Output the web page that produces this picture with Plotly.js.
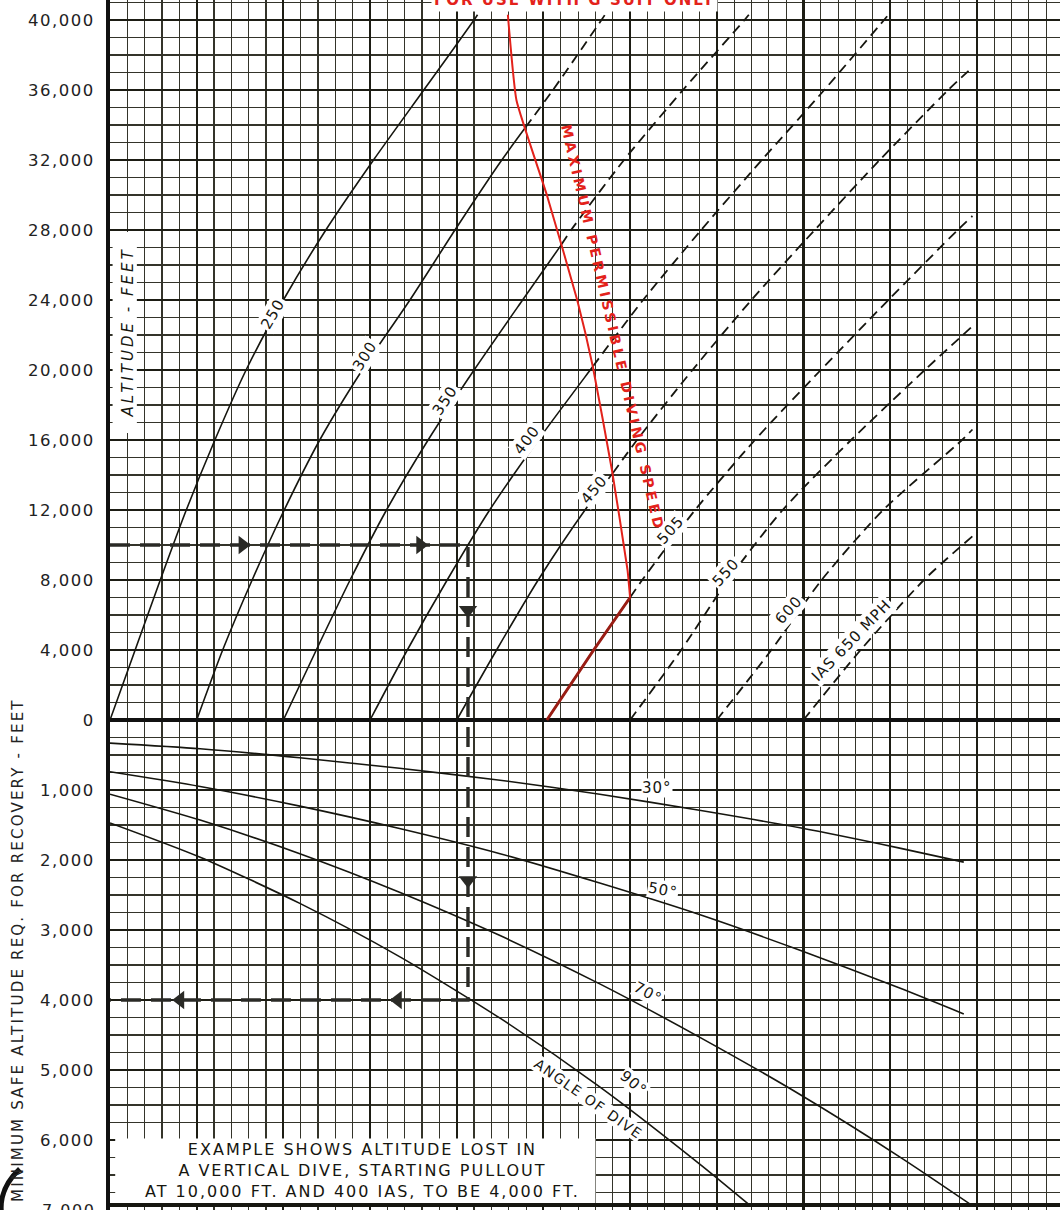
<!DOCTYPE html>
<html>
<head>
<meta charset="utf-8">
<script src="https://cdn.plot.ly/plotly-3.0.1.min.js"></script>
<style>
html,body{margin:0;padding:0;background:#ffffff;}
#chart{width:1060px;height:1210px;}
</style>
</head>
<body>
<div id="chart"></div>
<script>
// ---------------- DATA ----------------
// x = position in chart grid units (one unit per heavy vertical line), altitude in feet
const iasValues = [250, 300, 350, 400, 450, 505, 550, 600, 650];

const ias250X   = [0.00, 0.29, 0.58, 0.88, 1.21, 1.57, 2.00, 2.49, 3.04, 3.62, 4.20, 4.24];
const ias250Alt = [0, 4000, 8000, 12000, 16000, 20000, 24000, 28000, 32000, 36000, 40000, 40300];

const ias300X   = [1.00, 1.30, 1.64, 2.01, 2.42, 2.91, 3.46, 3.98, 4.52, 4.79, 5.11, 5.67, 5.71];
const ias300Alt = [0, 4000, 8000, 12000, 16000, 20000, 24000, 28000, 32000, 33840, 36000, 40000, 40300];

const ias350X   = [2.00, 2.38, 2.77, 3.19, 3.67, 4.20, 4.76, 5.21, 5.32, 5.93, 6.61, 7.32, 7.37];
const ias350Alt = [0, 4000, 8000, 12000, 16000, 20000, 24000, 27180, 28000, 32000, 36000, 40000, 40300];

const ias400X   = [3.00, 3.43, 3.89, 4.38, 4.94, 5.54, 5.57, 6.15, 6.82, 7.52, 8.24, 8.93, 8.98];
const ias400Alt = [0, 4000, 8000, 12000, 16000, 20000, 20200, 24000, 28000, 32000, 36000, 40000, 40300];

const ias450X   = [4.00, 4.46, 4.94, 5.48, 5.80, 6.08, 6.72, 7.40, 8.13, 8.88, 9.67, 9.95];
const ias450Alt = [0, 4000, 8000, 12000, 14100, 16000, 20000, 24000, 28000, 32000, 36000, 37300];

const ias505X   = [5.04, 5.58, 6.00, 6.14, 6.75, 7.44, 8.20, 8.98, 9.78, 9.95];
const ias505Alt = [0, 4000, 7000, 8000, 12000, 16000, 20000, 24000, 28000, 28800];

const ias550X   = [6.00, 6.59, 7.13, 7.76, 8.55, 9.40, 9.95];
const ias550Alt = [0, 4000, 8000, 12000, 16000, 20000, 22500];

const ias600X   = [7.00, 7.63, 8.21, 8.92, 9.83, 9.95];
const ias600Alt = [0, 4000, 8000, 12000, 16000, 16600];

const ias650X   = [8.00, 8.66, 9.39, 9.95];
const ias650Alt = [0, 4000, 8000, 10500];

// altitude (ft) up to which each IAS line is solid (where it meets the max-speed line)
const solidUpToAlt = [40300, 33840, 27180, 20200, 14100, 7000, 0, 0, 0];

// maximum permissible diving speed (red)
const maxSpeedLowX   = [5.04, 5.58, 6.00];
const maxSpeedLowAlt = [0, 4000, 7000];
const maxSpeedX   = [6.00, 5.97, 5.79, 5.57, 5.39, 5.04, 4.69, 4.59];
const maxSpeedAlt = [7000, 8600, 14300, 20200, 24000, 30000, 35400, 40300];

// altitude required for recovery (ft) by angle of dive
const diveAngles = [30, 50, 70, 90];
const dive30X   = [0.00, 1.04, 2.19, 3.34, 4.50, 5.65, 6.80, 7.96, 9.11, 9.85];
const dive30Rec = [330, 410, 540, 690, 860, 1060, 1290, 1540, 1830, 2030];
const dive50X   = [0.00, 1.04, 2.19, 3.34, 4.50, 5.65, 6.80, 7.96, 9.11, 9.85];
const dive50Rec = [740, 950, 1230, 1550, 1910, 2330, 2780, 3290, 3830, 4200];
const dive70X   = [0.00, 1.04, 2.19, 3.34, 4.50, 5.65, 6.80, 7.96, 9.11, 9.94];
const dive70Rec = [1060, 1430, 1910, 2460, 3080, 3770, 4530, 5350, 6240, 6930];
const dive90X   = [0.00, 1.04, 2.19, 3.34, 4.50, 5.65, 6.80, 7.38];
const dive90Rec = [1470, 1960, 2620, 3380, 4260, 5240, 6340, 6930];

// worked example: 10,000 ft at 400 IAS -> 4,000 ft in a vertical dive
const exampleStartAlt = 10000;
const exampleIasX = 4.13;
const exampleLossRec = 4000;
const exampleArrowRightX = [1.53, 3.58];
const exampleArrowDownAlt = [6290];
const exampleArrowDownRec = [2290];
const exampleArrowLeftX = [3.32, 0.81];

// tick labels
const altTickFt = [0, 4000, 8000, 12000, 16000, 20000, 24000, 28000, 32000, 36000, 40000];
const recTickFt = [1000, 2000, 3000, 4000, 5000, 6000, 7000];

// ---------------- BUILD ----------------
const ALT_PER_UNIT = 4000;   // upper scale
const REC_PER_UNIT = 1000;   // lower scale
const altY = a => a / ALT_PER_UNIT;
const recY = r => -r / REC_PER_UNIT;
const INK = '#16160f';
const FONT = 'DejaVu Sans, Verdana, sans-serif';

const speedX = [ias250X, ias300X, ias350X, ias400X, ias450X, ias505X, ias550X, ias600X, ias650X];
const speedAlt = [ias250Alt, ias300Alt, ias350Alt, ias400Alt, ias450Alt, ias505Alt, ias550Alt, ias600Alt, ias650Alt];

const traces = [];
iasValues.forEach((v, i) => {
  const xs = speedX[i], as = speedAlt[i], lim = solidUpToAlt[i];
  const sx = [], sy = [], dx = [], dy = [];
  xs.forEach((x, j) => {
    const a = as[j];
    if (a <= lim) { sx.push(x); sy.push(altY(a)); }
    if (a >= lim) { dx.push(x); dy.push(altY(a)); }
  });
  if (sx.length > 1) traces.push({type:'scatter', mode:'lines', x:sx, y:sy, hoverinfo:'skip',
    line:{color:INK, width:1.6, shape:'spline', smoothing:0.7}});
  if (dx.length > 1) traces.push({type:'scatter', mode:'lines', x:dx, y:dy, hoverinfo:'skip',
    line:{color:INK, width:1.8, dash:'10px,6px', shape:'spline', smoothing:0.7}});
});

const diveX = [dive30X, dive50X, dive70X, dive90X];
const diveRec = [dive30Rec, dive50Rec, dive70Rec, dive90Rec];
diveAngles.forEach((ang, i) => {
  traces.push({type:'scatter', mode:'lines', x:diveX[i], y:diveRec[i].map(recY), hoverinfo:'skip',
    line:{color:INK, width:1.6, shape:'spline', smoothing:0.7}});
});

traces.push({type:'scatter', mode:'lines', x:maxSpeedLowX, y:maxSpeedLowAlt.map(altY), hoverinfo:'skip',
  line:{color:'#9a1d14', width:3}});
traces.push({type:'scatter', mode:'lines', x:maxSpeedX, y:maxSpeedAlt.map(altY), hoverinfo:'skip',
  line:{color:'#e3221b', width:2, shape:'spline', smoothing:0.4}});

// example path
traces.push({type:'scatter', mode:'lines', hoverinfo:'skip',
  x:[0, exampleIasX, exampleIasX, 0],
  y:[altY(exampleStartAlt), altY(exampleStartAlt), recY(exampleLossRec), recY(exampleLossRec)],
  line:{color:'#2a2a26', width:3.4, dash:'20px,10px'}});
traces.push({type:'scatter', mode:'markers', hoverinfo:'skip',
  x:exampleArrowRightX, y:exampleArrowRightX.map(() => altY(exampleStartAlt)),
  marker:{symbol:'triangle-right', size:16, color:'#2a2a26'}});
traces.push({type:'scatter', mode:'markers', hoverinfo:'skip',
  x:[exampleIasX, exampleIasX], y:[altY(exampleArrowDownAlt[0]), recY(exampleArrowDownRec[0])],
  marker:{symbol:'triangle-down', size:16, color:'#2a2a26'}});
traces.push({type:'scatter', mode:'markers', hoverinfo:'skip',
  x:exampleArrowLeftX, y:exampleArrowLeftX.map(() => recY(exampleLossRec)),
  marker:{symbol:'triangle-left', size:16, color:'#2a2a26'}});

// ticks
const fmt = n => n.toLocaleString('en-US');
const ls = (t, s) => '<span style="letter-spacing:' + s + 'px">' + t + '</span>';
const tickVals = recTickFt.map(recY).concat(altTickFt.map(altY));
const tickText = recTickFt.map(fmt).concat(altTickFt.map(fmt)).map(t => ls(t, 1.5));

// label placements (layout only)
const speedLabelPos = [
  [1.88, 5.80, -60], [2.94, 5.20, -58], [3.87, 4.57, -56], [4.81, 4.00, -53],
  [5.58, 3.29, -50], [6.47, 2.71, -48], [7.11, 2.11, -48], [7.83, 1.57, -48], [8.56, 1.14, -46]
];
const annotations = [];
iasValues.forEach((v, i) => {
  const p = speedLabelPos[i];
  annotations.push({x:p[0], y:p[1], xref:'x', yref:'y', showarrow:false, textangle:p[2],
    text: ls(i === iasValues.length - 1 ? 'IAS ' + v + ' MPH' : String(v), 1),
    font:{family:FONT, size:15, color:INK}, bgcolor:'#ffffff', borderpad:1});
});
const diveLabelPos = [[6.31, -0.97, 0], [6.38, -2.43, 10], [6.21, -3.90, 28], [6.04, -5.18, 40]];
diveAngles.forEach((a, i) => {
  const p = diveLabelPos[i];
  annotations.push({x:p[0], y:p[1], showarrow:false, textangle:p[2], text: ls(a + '°', 1),
    font:{family:FONT, size:15, color:INK}, bgcolor:'#ffffff', borderpad:0});
});
annotations.push({x:5.52, y:-5.42, showarrow:false, textangle:35, text: ls('ANGLE OF DIVE', 1.5),
  font:{family:FONT, size:14, color:INK}, bgcolor:'#ffffff', borderpad:0});
annotations.push({x:5.80, y:5.6, showarrow:false, textangle:77,
  text: ls('<b>MAXIMUM PERMISSIBLE DIVING SPEED</b>', 3.5),
  font:{family:FONT, size:14, color:'#e3221b'}});
annotations.push({x:5.36, xref:'x', y:1, yref:'paper', yanchor:'middle', showarrow:false,
  text: ls('<b>FOR USE WITH G SUIT ONLY</b>', 2), font:{family:FONT, size:15, color:'#e3221b'},
  bgcolor:'#ffffff', borderpad:2});
annotations.push({x:0.21, y:5.54, showarrow:false, textangle:-90,
  text: ls('<i>ALTITUDE - FEET</i>', 3), font:{family:FONT, size:15, color:INK}});
annotations.push({x:-0.0968, xref:'paper', xanchor:'center', y:0.2149, yref:'paper', yanchor:'middle',
  showarrow:false, textangle:-90,
  text: ls('MINIMUM SAFE ALTITUDE REQ. FOR RECOVERY - FEET', 2.2), font:{family:FONT, size:15, color:'#222'}});
// bottom tick label sits on the frame edge, half cut as in the reference
annotations.push({x:-0.0137, xref:'paper', xanchor:'right', y:0, yref:'paper', yanchor:'middle',
  showarrow:false, text: ls(fmt(recTickFt[recTickFt.length - 1]), 1.5),
  font:{family:FONT, size:16, color:'#222'}});
annotations.push({x:2.91, y:-6.43, showarrow:false, align:'center',
  text: ls('EXAMPLE SHOWS ALTITUDE LOST IN<br>A VERTICAL DIVE, STARTING PULLOUT<br>AT 10,000 FT. AND 400 IAS, TO BE 4,000 FT.', 2),
  font:{family:FONT, size:16, color:INK}});

const shapes = [
  {type:'rect', layer:'between', xref:'x', yref:'y', x0:0.03, x1:0.31, y0:4.1, y1:6.97,
   fillcolor:'#ffffff', line:{width:0}},
  {type:'rect', layer:'between', xref:'x', yref:'y', x0:0.06, x1:5.6, y0:-6.9, y1:-5.98,
   fillcolor:'#ffffff', line:{width:0}},
  {type:'line', xref:'paper', yref:'y', x0:0, x1:1, y0:-6.93, y1:-6.93, line:{color:INK, width:4}},
  {type:'path', xref:'paper', yref:'paper', path:'M -0.095,0.034 Q -0.118,0.017 -0.114,-0.004',
   line:{color:'#111', width:5}}
];

const layout = {
  width:1060, height:1210,
  margin:{l:110, r:0, t:0, b:0},
  paper_bgcolor:'#ffffff', plot_bgcolor:'#ffffff',
  showlegend:false,
  font:{family:FONT, color:INK},
  xaxis:{range:[0, 10.96], showticklabels:false, ticks:'', tick0:0, dtick:1,
    showgrid:true, gridcolor:'#1d1d14', gridwidth:2.2, zeroline:false, showline:false, fixedrange:true,
    minor:{tick0:0, dtick:0.2, showgrid:true, gridcolor:'#34342a', gridwidth:1.1}},
  yaxis:{range:[-7, 10.2857], tickmode:'array', tickvals:tickVals, ticktext:tickText,
    ticks:'', ticklabelstandoff:8, tickfont:{family:FONT, size:16.5, color:'#222'},
    showgrid:true, gridcolor:'#1d1d14', gridwidth:2.2,
    zeroline:true, zerolinecolor:'#111', zerolinewidth:3.2,
    showline:true, linecolor:'#111', linewidth:4, fixedrange:true,
    minor:{tickmode:'linear', tick0:0, dtick:0.25, showgrid:true, gridcolor:'#34342a', gridwidth:1.1}},
  shapes:shapes,
  annotations:annotations
};

Plotly.newPlot('chart', traces, layout, {staticPlot:true, displayModeBar:false});
</script>
</body>
</html>
